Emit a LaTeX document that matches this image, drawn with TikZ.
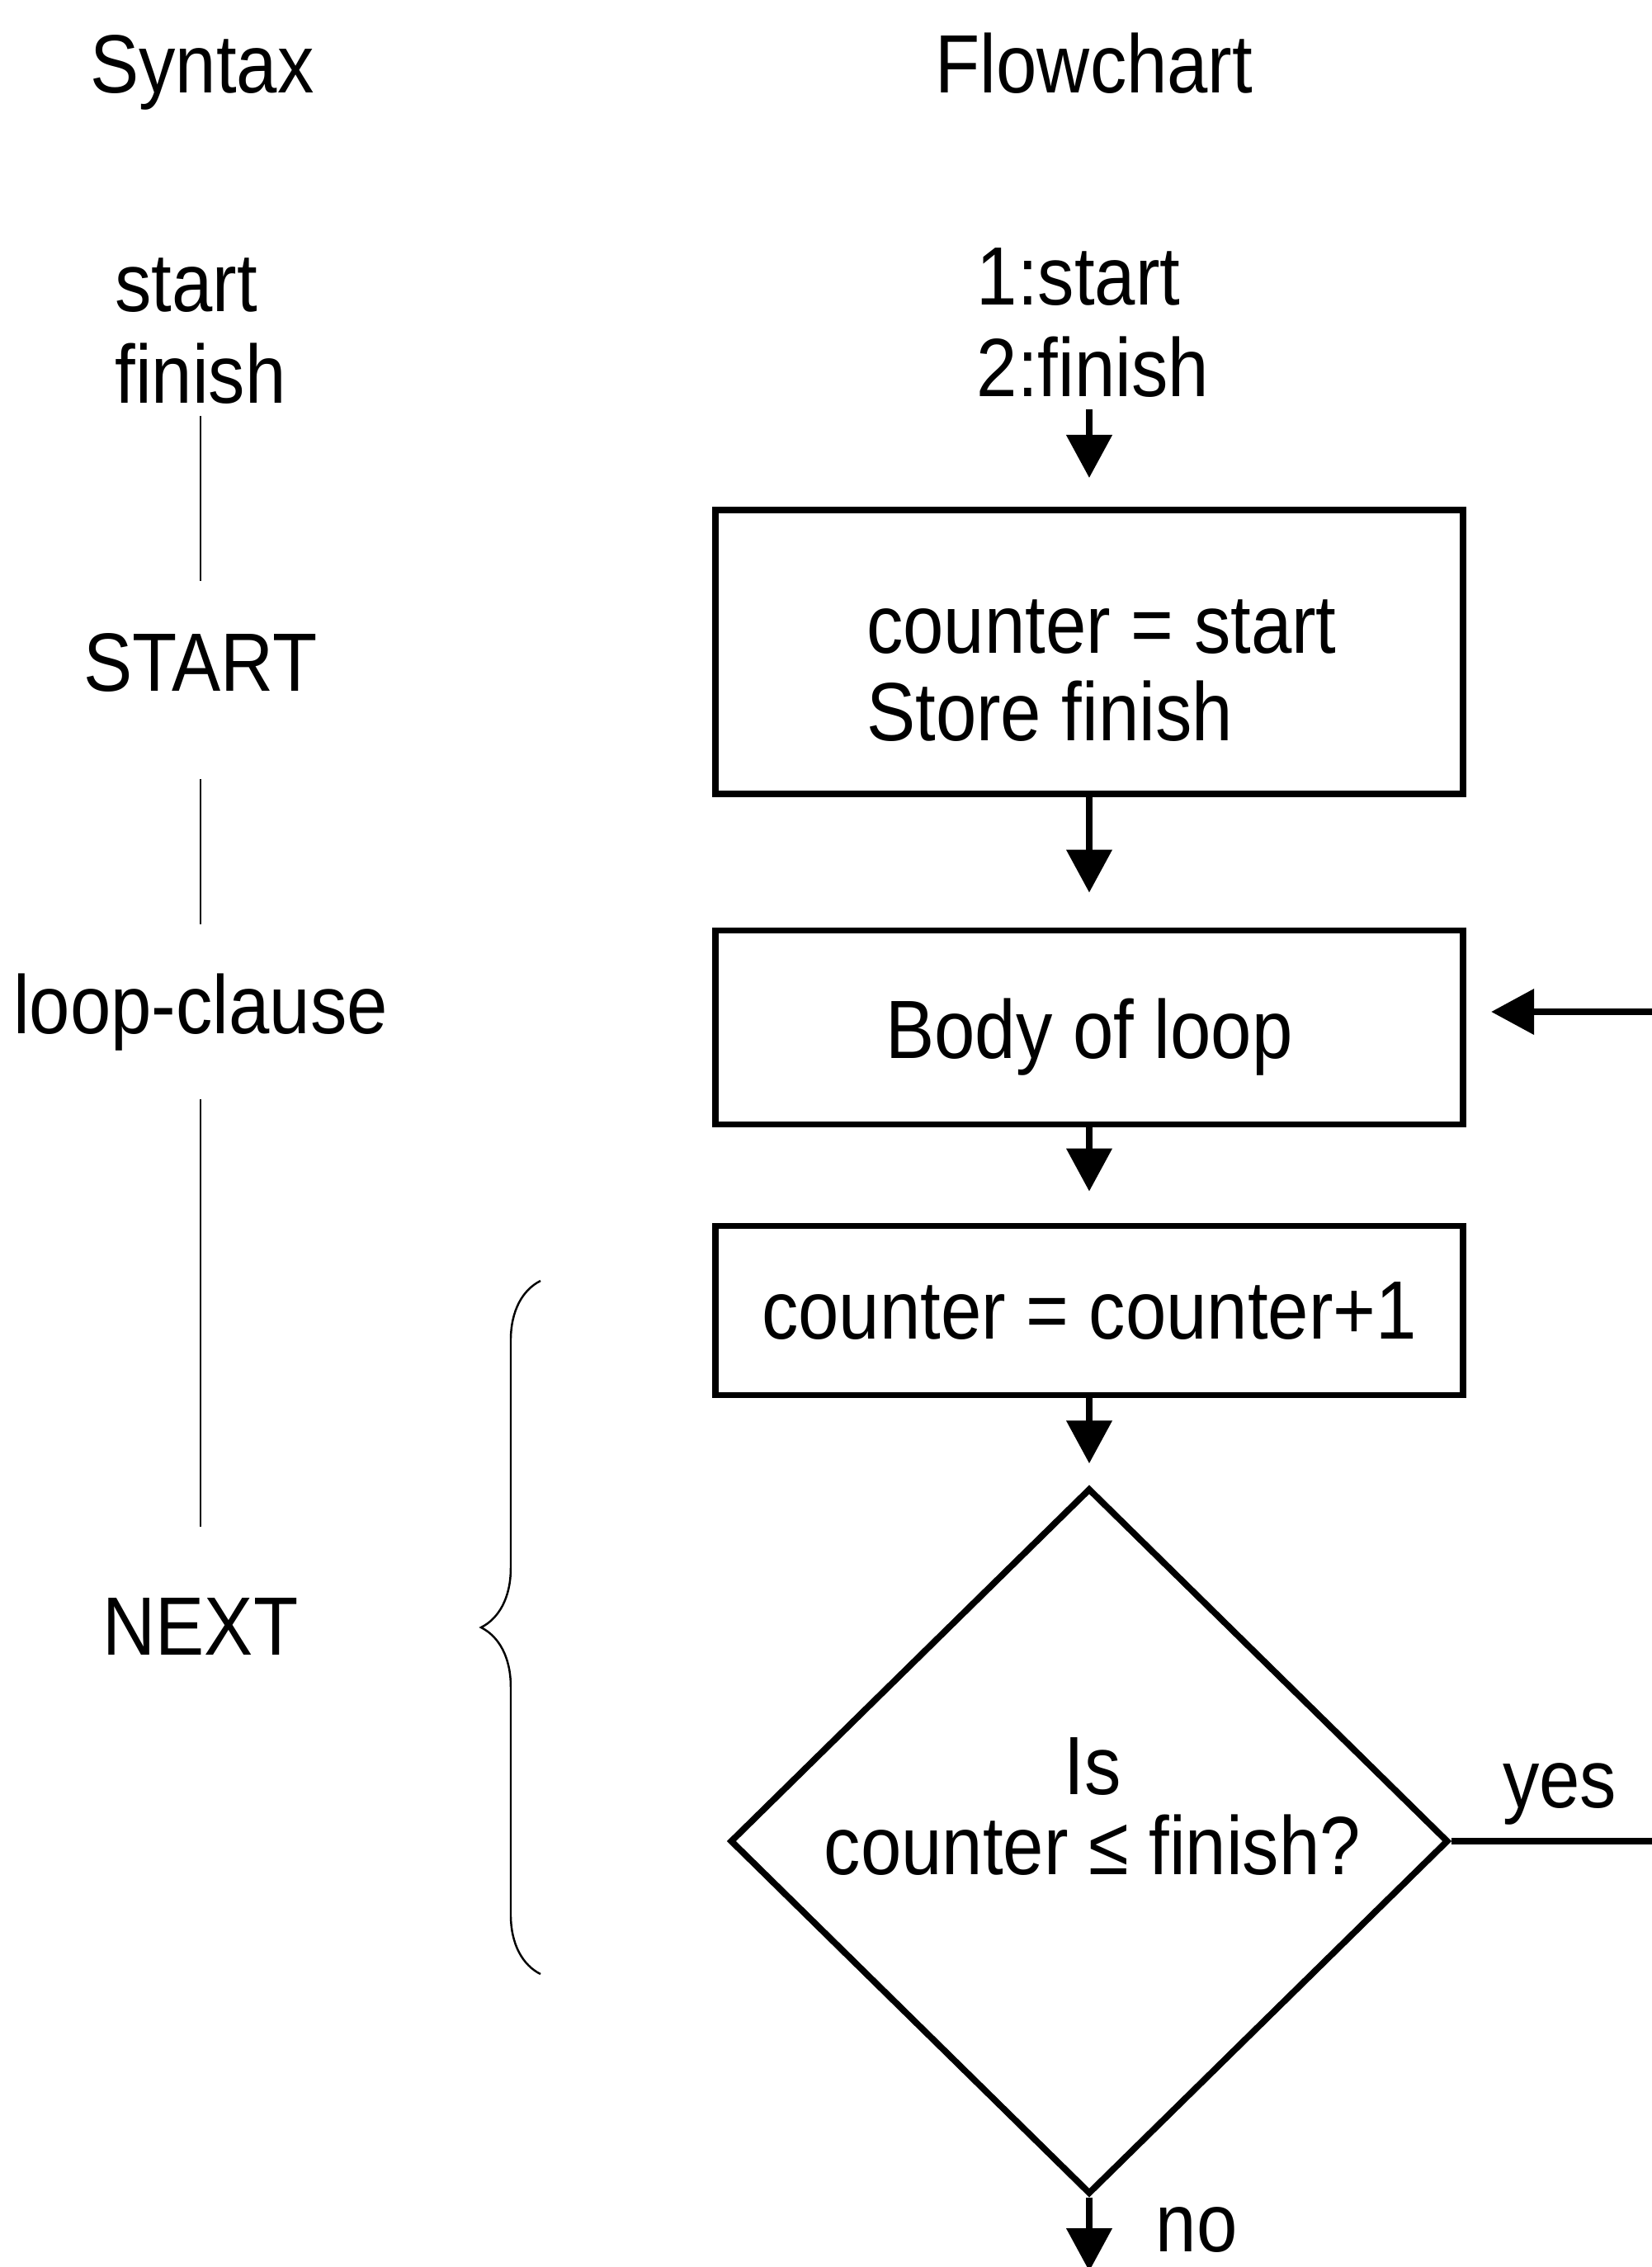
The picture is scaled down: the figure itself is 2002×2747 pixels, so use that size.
\documentclass[tikz,border=0pt]{standalone}
\usepackage{fontspec}
\setmainfont{Liberation Sans}[FakeStretch=0.885]
\usetikzlibrary{arrows.meta,shapes.geometric,decorations.pathreplacing}

\begin{document}
\begin{tikzpicture}
  [x=0.01cm,y=-0.01cm,
   every node/.style={inner sep=0pt,font=\fontsize{28.5}{31.6}\selectfont},
   box/.style={draw,line width=2.2pt,minimum width=9.06cm},
   arr/.style={line width=2.2pt,-{Triangle[length=5.2mm,width=5.4mm]}},
   thin/.style={line width=0.7pt}]
  \useasboundingbox (0,0) rectangle (2002,2747);

  % headings
  \node (syn) [anchor=base] at (245,112) {Syntax};
  \node (flow) [anchor=base] at (1326,112) {Flowchart};

  % syntax column
  \node (sf) [align=left,anchor=south] at (243,490) {start\\finish};
  \node (st) [anchor=base] at (243,837) {START};
  \node (lc) [anchor=base] at (243,1252) {loop-clause};
  \node (nx) [anchor=base] at (243,2005) {NEXT};

  \foreach \from/\to/\s/\e in {sf/st/1.4/6.2,st/lc/10.5/5.9,lc/nx/5.8/8.5}
    \draw[thin,shorten <=\s mm,shorten >=\e mm] (\from) -- (\to);

  \coordinate (brtop) at (655,1552);
  \coordinate (brbot) at (655,2392);
  \draw[thin,decorate,decoration={brace,amplitude=7.2mm}] (brbot) -- (brtop);

  % flowchart
  \node (args) [align=left,anchor=south west] at (1183,482) {1:start\\2:finish};
  \node (b1) [box,minimum height=3.44cm,align=left,
              font=\fontsize{28.5}{29.9}\selectfont] at (1320,790) {\rule{0pt}{1.1cm}\hspace*{0.3cm}counter = start\\\hspace*{0.3cm}Store finish};
  \node (b2) [box,minimum height=2.35cm] at (1320,1245) {\rule{0pt}{0.96cm}Body of loop};
  \node (b3) [box,minimum height=2.05cm] at (1320,1588) {counter = counter+1};
  \node (q) [diamond,draw,line width=2.2pt,minimum width=8.7cm,minimum height=8.55cm] at (1320,2231) {};
  \node (qt) [align=center,font=\fontsize{28.5}{27.6}\selectfont] at (1324,2189) {Is\\counter ≤ finish?};
  \node (yes) [anchor=base] at (1890,2190) {yes};
  \node (no) [anchor=base west] at (1400,2728) {no};

  \coordinate (yesend) at (2010,2231);
  \coordinate (backin) at (2010,1226);
  \coordinate (out) at (1320,2752);

  \draw[arr,shorten <=1.4mm,shorten >=3.5mm] (b1.north |- args.south) -- (b1.north);
  \foreach \from/\to/\g in {b1/b2/4.2,b2/b3/3.8,b3/q/2.6}
    \draw[arr,shorten >=\g mm] (\from) -- (\to);
  \draw[line width=2.2pt] (q.east) -- (yesend);
  \draw[arr,shorten >=3mm] (backin) -- (backin -| b2.east);
  \draw[arr] (q.south) -- (out);

\end{tikzpicture}
\end{document}
